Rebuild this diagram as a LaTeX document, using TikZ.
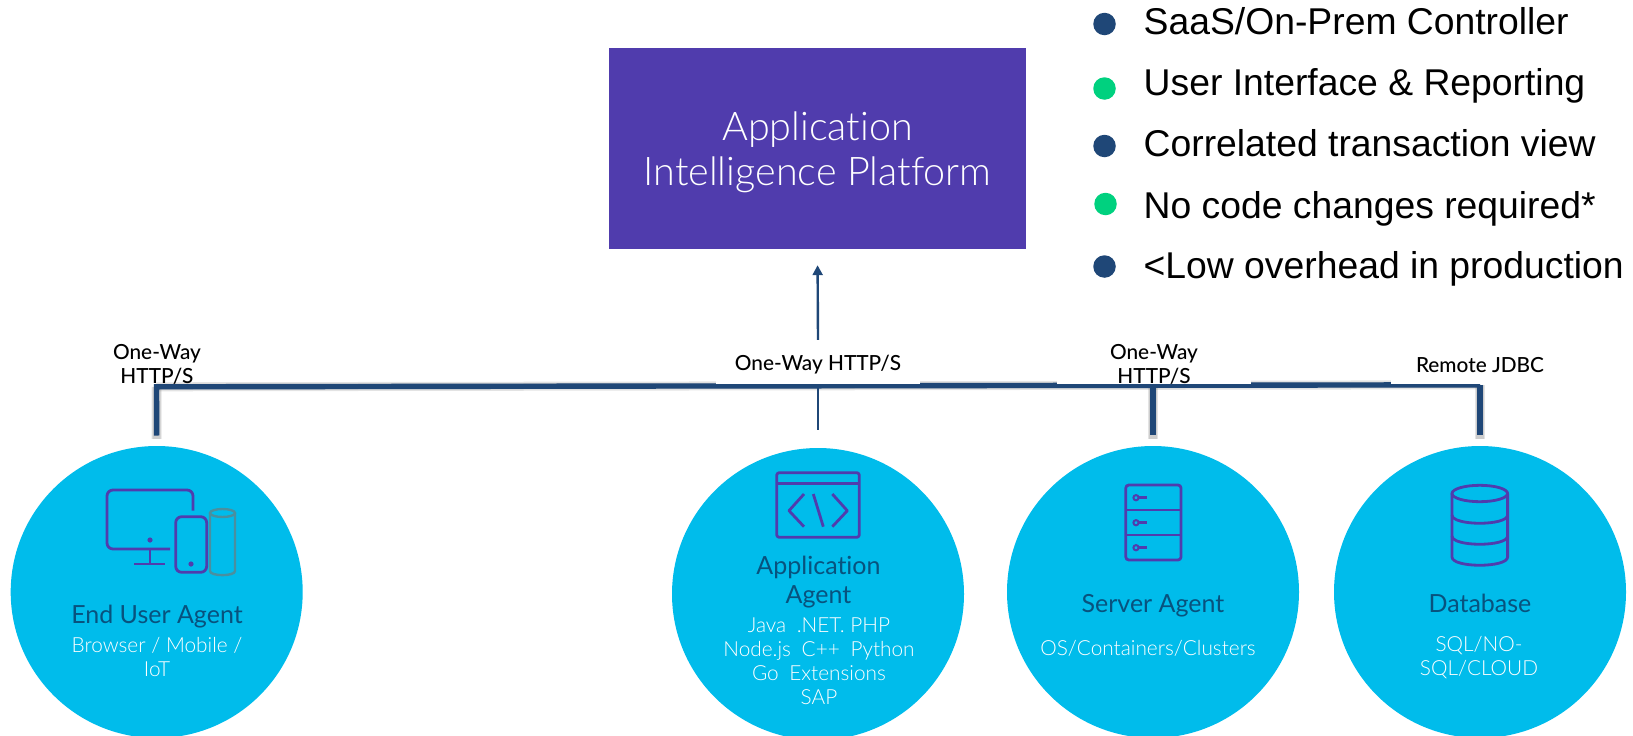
\documentclass[tikz,border=0pt]{standalone}
\usepackage{fontspec}
\setmainfont[Ligatures=NoCommon]{Lato}
\newfontfamily\lightf[Ligatures=NoCommon]{Lato Light}
\newfontfamily\medf[Ligatures=NoCommon]{Lato Medium}
\newfontfamily\arialf{Liberation Sans}
\usetikzlibrary{arrows.meta}
\definecolor{busblue}{HTML}{1F4777}
\definecolor{plat}{HTML}{503CAD}
\definecolor{sky}{HTML}{00BCEB}
\definecolor{grn}{HTML}{00D17F}
\definecolor{titleblue}{HTML}{08527E}
\definecolor{cylgray}{HTML}{4A8F9F}
\tikzset{
 agent/.style={circle,fill=sky,minimum size=292pt,inner sep=0pt},
 bus/.style={draw=busblue,line width=5.4pt},
 busshadow/.style={draw=gray,line width=#1,opacity=.22},
 thin link/.style={draw=busblue,line width=2.4pt},
 lbl/.style={font=\medf\fontsize{20.8}{23.5}\selectfont,align=center,text=black,inner sep=0pt},
 maskbox/.style={fill=white,inner sep=0pt,minimum height=44pt},
 ttl/.style={font=\fontsize{25}{28.5}\selectfont,text=titleblue,align=center,inner sep=0pt},
 subt/.style={font=\lightf\fontsize{20.8}{24}\selectfont,text=white,align=center,inner sep=0pt},
 ico/.style={draw=plat,line width=2.8pt,line join=round},
 dotb/.style={circle,fill=busblue,minimum size=22.5pt,inner sep=0pt},
 dotg/.style={circle,fill=grn,minimum size=22.5pt,inner sep=0pt},
 item/.style={font=\arialf\fontsize{37.3}{40}\selectfont,anchor=base west,inner sep=0pt,text=black},
}
\begin{document}
\begin{tikzpicture}[x=1pt,y=-1pt]
\useasboundingbox (0,0) rectangle (1633,736);
\clip (0,0) rectangle (1633,736);
% platform
\node[fill=plat,minimum width=417pt,minimum height=201pt,inner sep=0pt] (platform) at (817.5,148.5) {};
\node[text=white,align=center,inner sep=0pt,font=\lightf\fontsize{39.5}{44.5}\selectfont] (platformtext) at (817.5,152.5) {Application\\Intelligence Platform};
% agents
\node[agent] (eu) at (156.7,592) {};
\node[agent] (app) at (818,594) {};
\node[agent] (srv) at (1153,592) {};
\node[agent] (db) at (1480,592) {};
% bus
\coordinate (busL) at (156.5,386.8);
\coordinate (busR) at (1480,384.8);
\foreach \w/\dy in {9pt/4,6pt/4.5}{
 \draw[busshadow=\w,yshift=-\dy pt] (busL) -- (busR);
}
\foreach \w in {10pt,8pt}{
 \draw[busshadow=\w,shorten >=7pt] (busL) -- (eu.north);
 \draw[busshadow=\w,shorten >=7pt] (srv.north|-busL) -- (srv.north);
 \draw[busshadow=\w,shorten >=7pt] (busR) -- (db.north);
}
\draw[bus,shorten >=10.5pt] (busR) -- (db.north);
\draw[bus,shorten >=10.5pt] (srv.north|-busL) -- (srv.north);
\draw[bus,shorten >=13pt,line cap=rect] (busL) -- (eu.north);
\draw[bus] (busL) -- (busR);
\draw[thin link,shorten >=18pt] (app.north|-busL) -- (app.north);
% labels
\node[lbl] (l1) at (157,364.5) {One-Way\\HTTP/S};
\node[maskbox,minimum width=204pt] (m2) at (818,362) {};
\node[maskbox,minimum width=194pt] (m3) at (1153.5,362) {};
\node[maskbox,minimum width=178pt] (m4) at (1480,362) {};
\node[lbl] (l2) at (818,365) {One-Way HTTP/S};
\node[lbl] (l3) at (1154,364.5) {One-Way\\HTTP/S};
\node[lbl] (l4) at (1480,365) {Remote JDBC};
% arrow
\draw[thin link,-{Triangle[length=10pt,width=10pt]},shorten >=16pt] (m2.north) -- (platform.south);
% end user icon
\draw[ico] (193,510.5) -- (193,496) arc[start angle=0,end angle=-90,radius=6] -- (113,490) arc[start angle=-90,end angle=-180,radius=6] -- (107,543) arc[start angle=180,end angle=90,radius=6] -- (170,549);
\draw[ico] (150,549) -- (150,564) (134,564) -- (165,564);
\fill[plat] (150,540) circle (2.6);
\draw[ico,rounded corners=6pt] (175.7,516.7) rectangle (206.7,572.3);
\fill[plat] (191,564) circle (2.6);
\draw[draw=cylgray,line width=2.4pt] (210,513) -- (210,571) .. controls (210,576.5) and (235,576.5) .. (235,571) -- (235,513);
\draw[draw=cylgray,line width=2.4pt] (222.5,513) ellipse[x radius=12.5,y radius=4];
% application icon
\draw[ico,rounded corners=2.5pt] (776.7,472.7) rectangle (859.3,537.3);
\draw[ico] (776.7,483.3) -- (859.3,483.3);
\draw[ico] (804,494) -- (789,510.7) -- (804,526.7);
\draw[ico] (832.3,494) -- (847.3,510.7) -- (832.3,526.7);
\draw[ico] (813.3,494) -- (823.3,526.7);
% server icon
\draw[ico,rounded corners=3pt] (1125.8,485) rectangle (1181,560);
\draw[ico] (1125.8,510) -- (1181,510) (1125.8,535) -- (1181,535);
\foreach \y in {497.7,522.7,547.7}{
 \draw[draw=plat,line width=2pt] (1136,\y) circle (2.6);
 \draw[draw=plat,line width=2.6pt] (1138.6,\y) -- (1146.8,\y);
}
% database icon
\draw[ico] (1479.8,493.5) ellipse[x radius=27.8,y radius=8.2];
\draw[ico] (1452,493.5) -- (1452,557) .. controls (1452,568) and (1507.6,568) .. (1507.6,557) -- (1507.6,493.5);
\draw[ico] (1452,515) .. controls (1452,526) and (1507.6,526) .. (1507.6,515);
\draw[ico] (1452,536) .. controls (1452,547) and (1507.6,547) .. (1507.6,536);
% circle texts
\node[ttl] (t1) at (157,617) {End User Agent};
\node[subt] (s1) at (157,656.5) {Browser / Mobile /\\IoT};
\node[ttl] (t2) at (818.5,582) {Application\\Agent};
\node[subt] (s2) at (819,661.5) {Java\hspace{5pt} .NET. PHP\\Node.js\hspace{5pt} C++\hspace{5pt} Python\\Go\hspace{5pt} Extensions\\SAP};
\node[ttl] (t3) at (1153,606) {Server Agent};
\node[subt] (s3) at (1148,648) {OS/Containers/Clusters};
\node[ttl] (t4) at (1480,603.5) {Database};
\node[subt] (s4) at (1479,658) {SQL/NO-\\SQL/CLOUD};
% bullets
\node[dotb] (b1) at (1104.5,24) {};
\node[dotg] (b2) at (1104.5,88.5) {};
\node[dotb] (b3) at (1104.5,146) {};
\node[dotg] (b4) at (1105.5,204) {};
\node[dotb] (b5) at (1104.5,266.5) {};
\node[item] (i1) at (1143.5,34) {SaaS/On-Prem Controller};
\node[item] (i2) at (1143.5,95) {User Interface \& Reporting};
\node[item] (i3) at (1143.5,156) {Correlated transaction view};
\node[item] (i4) at (1143.5,218) {No code changes required*};
\node[item] (i5) at (1143.5,278) {<Low overhead in production};
\end{tikzpicture}
\end{document}
